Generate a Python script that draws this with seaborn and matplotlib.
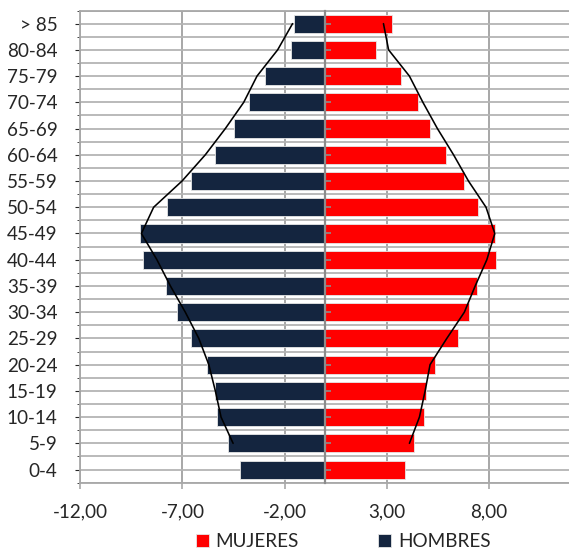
import matplotlib
matplotlib.use("Agg")
import matplotlib.pyplot as plt
import numpy as np
import pandas as pd
import seaborn as sns
from matplotlib.ticker import FixedLocator, FixedFormatter

# age groups, top to bottom
grupos = ["> 85", "80-84", "75-79", "70-74", "65-69", "60-64", "55-59", "50-54",
          "45-49", "40-44", "35-39", "30-34", "25-29", "20-24", "15-19", "10-14",
          "5-9", "0-4"]

# bars (% of population), men negative
hombres = [-1.52, -1.71, -2.97, -3.73, -4.49, -5.39, -6.57, -7.76,
           -9.09, -8.93, -7.81, -7.29, -6.57, -5.79, -5.43, -5.29, -4.77, -4.19]
mujeres = [3.27, 2.45, 3.71, 4.51, 5.11, 5.91, 6.80, 7.47,
           8.28, 8.34, 7.44, 7.01, 6.48, 5.36, 4.92, 4.82, 4.35, 3.87]

# outline of the other pyramid (> 85 down to 5-9)
linea_hombres = [-1.61, -2.34, -3.35, -4.00, -4.90, -5.88, -7.02, -8.41,
                 -9.01, -8.25, -7.59, -6.86, -6.20, -5.71, -5.39, -5.11, -4.52]
linea_mujeres = [2.84, 3.09, 4.11, 4.77, 5.48, 6.27, 7.00, 7.86,
                 8.29, 7.90, 7.33, 6.80, 5.94, 5.12, 4.88, 4.60, 4.11]

x_ticks = [-12, -7, -2, 3, 8]

NAVY = "#14253f"
RED = "#ff0000"
GRID = "#b4b4b4"
FS = 13.6

sns.set_style("white")
plt.rcParams["font.family"] = ["Lato", "DejaVu Sans"]
plt.rcParams["font.size"] = FS

W, H = 569, 549
fig = plt.figure(figsize=(W / 100, H / 100), dpi=100)
x0, x_zero, px_unit = 80.3, 325.2, 20.45
x_right = x_zero + 12 * px_unit
y_top, y_bot = 10.5, 482.7
ax = fig.add_axes([x0 / W, (H - y_bot) / H, (x_right - x0) / W, (y_bot - y_top) / H])

df = pd.DataFrame({"grupo": grupos, "hombres": hombres, "mujeres": mujeres})
sns.barplot(data=df, x="hombres", y="grupo", order=grupos, color=NAVY, width=0.69,
            edgecolor="#e6e6e6", linewidth=0.6, saturation=1, label="HOMBRES", ax=ax)
sns.barplot(data=df, x="mujeres", y="grupo", order=grupos, color=RED, width=0.69,
            edgecolor="#e6e6e6", linewidth=0.6, saturation=1, label="MUJERES", ax=ax)

pos = np.arange(len(linea_hombres))
for vals in (linea_hombres, linea_mujeres):
    sns.lineplot(x=vals, y=pos, orient="y", sort=False, estimator=None,
                 color="black", linewidth=1.15, ax=ax, zorder=5)

if ax.get_legend() is not None:
    ax.get_legend().remove()

ax.set_xlim(-12, 12)
ax.set_ylim(len(grupos) - 0.5, -0.5)
ax.set_xlabel("")
ax.set_ylabel("")

ax.xaxis.set_major_locator(FixedLocator(x_ticks))
ax.xaxis.set_major_formatter(FixedFormatter([f"{v:.2f}".replace(".", ",") for v in x_ticks]))
ax.yaxis.set_minor_locator(FixedLocator(np.arange(-0.5, len(grupos), 1.0)))

ax.set_axisbelow(True)
ax.grid(True, axis="x", which="major", color="#a0a0a0", linewidth=1.3)
ax.grid(True, axis="y", which="both", color=GRID, linewidth=1.3)

ax.tick_params(axis="x", bottom=True, length=4.5, width=1.1, color="#a0a0a0", pad=10.5)
ax.tick_params(axis="y", which="both", left=False, right=False, labelleft=True, pad=13)

for side in ("top", "left", "bottom"):
    ax.spines[side].set_color("#a8a8a8")
    ax.spines[side].set_linewidth(1.3)
ax.spines["right"].set_visible(False)

# zero axis with tick marks drawn over the bars
ax2 = ax.twinx()
ax2.set_ylim(ax.get_ylim())
ax2.yaxis.set_major_locator(FixedLocator(np.arange(len(grupos))))
ax2.spines["right"].set_position(("data", 0))
ax2.spines["right"].set_color("#8c8c8c")
ax2.spines["right"].set_linewidth(1.6)
for side in ("top", "left", "bottom"):
    ax2.spines[side].set_visible(False)
ax2.tick_params(axis="y", right=True, labelright=False, direction="out",
                length=4, width=1.2, color="#8c8c8c")

handles, labels = ax.get_legend_handles_labels()
order = [labels.index("MUJERES"), labels.index("HOMBRES")]
fig.legend([handles[i] for i in order], [labels[i] for i in order],
           loc="center", bbox_to_anchor=(343 / W, 7.5 / H), ncol=2, frameon=False,
           handlelength=0.7, handleheight=0.7, handletextpad=0.35,
           columnspacing=4.2, fontsize=FS, borderpad=0)

fig.savefig("out.png", dpi=100)
